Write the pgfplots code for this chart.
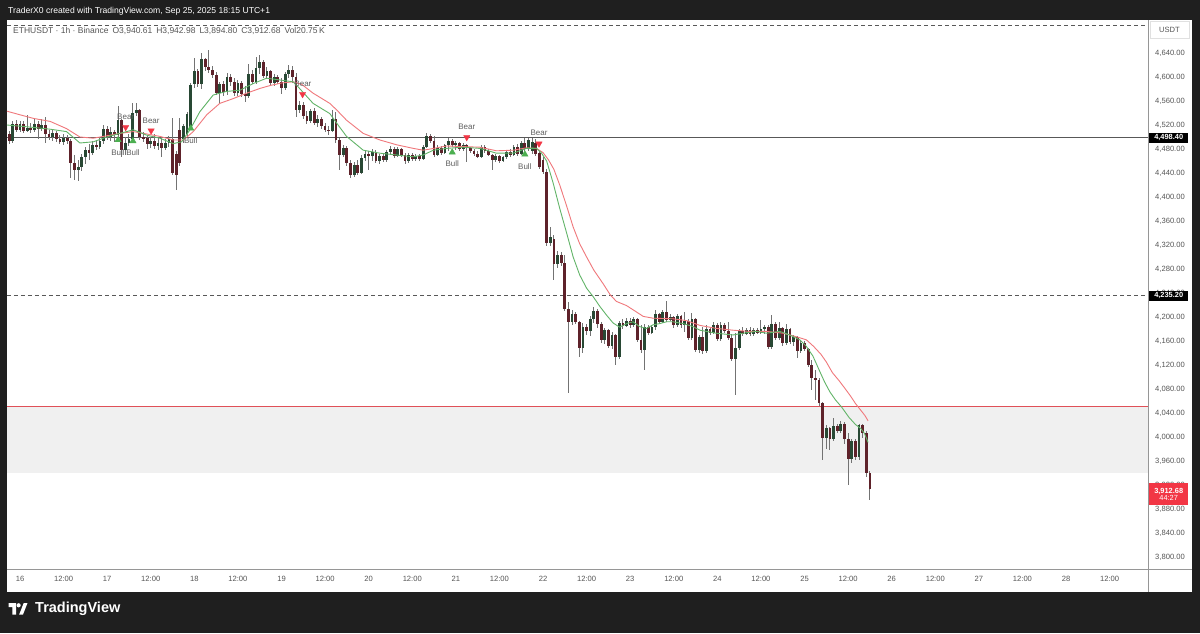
\documentclass[border=0pt]{standalone}
\usepackage{fontspec}
\setmainfont{Liberation Sans}
\usepackage{pgfplots}
\usepackage{pgfplotstable}
\usetikzlibrary{backgrounds}
\pgfplotsset{compat=1.18}
\newcommand{\fs}[1]{\fontsize{#1}{#1}\selectfont}

\definecolor{bgdark}{RGB}{31,31,31}
\definecolor{axtext}{RGB}{85,85,85}
\definecolor{sepgray}{RGB}{150,150,150}
\definecolor{upbody}{RGB}{40,72,52}
\definecolor{dnbody}{RGB}{94,34,42}
\definecolor{wickc}{RGB}{115,115,115}
\definecolor{emagreen}{RGB}{98,180,104}
\definecolor{emared}{RGB}{240,120,124}
\definecolor{zonegray}{RGB}{240,240,240}
\definecolor{zonered}{RGB}{224,80,88}
\definecolor{levelgray}{RGB}{88,88,88}
\definecolor{tvred}{RGB}{242,54,69}
\definecolor{bullg}{RGB}{76,175,80}
\definecolor{sigtext}{RGB}{95,95,95}
\tikzset{sig/.style={font=\fs{8}, text=sigtext, inner sep=0pt}}

% hourly candles, h = hours since Sep 16 00:00
\pgfplotstableread{
h o hi lo c
-3 4505 4510 4488 4494
-2 4494 4526 4490 4522
-1 4522 4528 4508 4512
0 4512 4527 4508 4522
1 4522 4526 4506 4510
2 4510 4537 4509 4515
3 4515 4524 4506 4512
4 4512 4530 4508 4522
5 4522 4526 4496 4514
6 4514 4530 4510 4520
7 4520 4534 4490 4505
8 4505 4512 4495 4500
9 4500 4512 4494 4506
10 4506 4510 4492 4497
11 4497 4504 4488 4492
12 4492 4505 4487 4499
13 4499 4503 4488 4493
14 4493 4496 4432 4457
15 4457 4470 4428 4445
16 4445 4462 4426 4450
17 4450 4472 4444 4466
18 4466 4484 4455 4478
19 4478 4488 4462 4474
20 4474 4494 4470 4487
21 4487 4495 4478 4483
22 4483 4500 4480 4493
23 4493 4520 4488 4513
24 4513 4518 4495 4500
25 4500 4516 4494 4508
26 4508 4512 4492 4503
27 4503 4551 4495 4528
28 4528 4530 4467 4478
29 4478 4500 4470 4490
30 4490 4505 4485 4497
31 4497 4556 4493 4540
32 4540 4556 4535 4545
33 4545 4547 4495 4500
34 4500 4508 4492 4498
35 4498 4502 4480 4488
36 4488 4500 4482 4494
37 4494 4505 4480 4485
38 4485 4498 4478 4490
39 4490 4500 4467 4482
40 4482 4496 4478 4490
41 4490 4502 4484 4496
42 4496 4531 4436 4440
43 4472 4476 4412 4436
44 4512 4531 4452 4456
45 4496 4522 4490 4518
46 4505 4542 4500 4538
47 4517 4590 4514 4587
48 4588 4631 4581 4610
49 4610 4614 4583 4588
50 4588 4640 4580 4630
51 4630 4632 4610 4616
52 4616 4645 4606 4611
53 4611 4618 4598 4603
54 4603 4608 4570 4574
55 4574 4592 4556 4588
56 4588 4594 4568 4575
57 4575 4606 4570 4600
58 4600 4605 4585 4592
59 4592 4598 4568 4574
60 4574 4595 4568 4590
61 4590 4594 4566 4572
62 4572 4585 4558 4568
63 4568 4622 4565 4605
64 4605 4612 4588 4592
65 4592 4634 4588 4615
66 4615 4637 4605 4625
67 4625 4628 4598 4601
68 4601 4617 4596 4610
69 4610 4612 4586 4590
70 4590 4605 4585 4600
71 4600 4604 4588 4592
72 4592 4598 4572 4582
73 4582 4608 4578 4605
74 4605 4620 4598 4612
75 4612 4618 4590 4600
76 4600 4606 4534 4545
77 4545 4560 4540 4553
78 4553 4558 4530 4535
79 4535 4544 4522 4527
80 4527 4547 4524 4543
81 4543 4548 4520 4524
82 4524 4536 4516 4530
83 4530 4534 4514 4518
84 4518 4524 4508 4512
85 4512 4518 4504 4510
86 4510 4545 4508 4530
87 4530 4542 4490 4495
88 4495 4498 4445 4470
89 4470 4486 4466 4482
90 4482 4485 4452 4457
91 4457 4462 4432 4436
92 4436 4458 4434 4453
93 4453 4462 4436 4440
94 4440 4470 4438 4465
95 4465 4476 4460 4472
96 4472 4476 4445 4468
97 4468 4480 4460 4475
98 4475 4478 4456 4460
99 4460 4472 4455 4468
100 4468 4472 4458 4462
101 4462 4478 4458 4475
102 4475 4485 4470 4480
103 4480 4483 4465 4468
104 4468 4484 4466 4480
105 4480 4482 4466 4470
106 4470 4474 4455 4460
107 4460 4474 4456 4470
108 4470 4473 4460 4463
109 4463 4472 4460 4469
110 4469 4472 4460 4464
111 4464 4487 4462 4484
112 4484 4506 4482 4502
113 4502 4505 4490 4494
114 4494 4501 4466 4470
115 4470 4486 4468 4482
116 4482 4485 4470 4474
117 4474 4489 4472 4486
118 4486 4498 4476 4494
119 4494 4497 4483 4486
120 4486 4494 4478 4490
121 4490 4492 4477 4480
122 4480 4490 4477 4486
123 4486 4488 4459 4481
124 4481 4484 4474 4477
125 4477 4480 4469 4472
126 4472 4476 4465 4467
127 4467 4486 4465 4483
128 4483 4486 4474 4477
129 4477 4480 4468 4470
130 4470 4472 4445 4462
131 4462 4471 4459 4468
132 4468 4470 4457 4460
133 4460 4469 4458 4466
134 4466 4478 4463 4475
135 4475 4480 4467 4470
136 4470 4487 4468 4484
137 4484 4488 4469 4472
138 4472 4494 4470 4490
139 4490 4498 4476 4480
140 4480 4499 4477 4495
141 4476 4499 4472 4492
142 4490 4496 4468 4472
143 4474 4478 4446 4450
144 4462 4466 4438 4442
145 4442 4446 4318 4323
146 4323 4350 4318 4334
147 4330 4336 4262 4288
148 4288 4310 4282 4304
149 4304 4309 4285 4290
150 4290 4303 4210 4214
151 4214 4225 4073 4192
152 4192 4212 4186 4205
153 4205 4208 4188 4192
154 4192 4194 4134 4148
155 4148 4190 4140 4184
156 4184 4189 4170 4176
157 4176 4202 4168 4196
158 4196 4216 4190 4210
159 4210 4214 4182 4188
160 4188 4192 4156 4162
161 4162 4182 4155 4178
162 4178 4180 4148 4152
163 4152 4175 4146 4170
164 4170 4172 4120 4134
165 4134 4194 4130 4190
166 4190 4196 4180 4185
167 4185 4198 4183 4194
168 4194 4198 4182 4186
169 4186 4200 4184 4197
170 4197 4199 4158 4162
171 4162 4186 4140 4145
172 4145 4188 4112 4184
173 4184 4187 4170 4174
174 4174 4186 4172 4183
175 4183 4212 4178 4205
176 4205 4207 4188 4192
177 4192 4211 4190 4208
178 4208 4226 4192 4195
179 4195 4205 4193 4200
180 4200 4202 4182 4186
181 4186 4205 4184 4202
182 4202 4204 4182 4186
183 4186 4209 4175 4194
184 4194 4196 4162 4165
185 4165 4206 4162 4196
186 4196 4199 4142 4145
187 4145 4170 4140 4166
188 4166 4184 4139 4143
189 4143 4186 4140 4180
190 4180 4184 4170 4174
191 4174 4192 4172 4187
192 4187 4190 4160 4163
193 4163 4192 4160 4187
194 4187 4190 4174 4177
195 4177 4192 4162 4165
196 4165 4172 4126 4130
197 4130 4173 4070 4148
198 4148 4180 4145 4176
199 4176 4184 4168 4172
200 4172 4182 4170 4178
201 4178 4183 4168 4171
202 4171 4181 4168 4178
203 4178 4182 4171 4174
204 4174 4195 4172 4180
205 4180 4187 4172 4184
206 4184 4186 4146 4150
207 4150 4203 4147 4189
208 4189 4192 4162 4165
209 4165 4192 4161 4182
210 4182 4184 4152 4156
211 4156 4189 4154 4180
212 4180 4182 4155 4158
213 4158 4170 4152 4166
214 4166 4168 4131 4143
215 4143 4160 4140 4156
216 4156 4160 4143 4146
217 4146 4148 4117 4120
218 4120 4128 4078 4098
219 4098 4112 4062 4095
220 4095 4098 4052 4056
221 4056 4059 3962 3998
222 3998 4020 3980 4015
223 4015 4017 3978 3996
224 3996 4031 3993 4018
225 4018 4022 4006 4010
226 4010 4026 4006 4022
227 4022 4025 3989 3996
228 3996 4006 3920 3964
229 3964 3996 3956 3994
230 3994 3996 3962 3966
231 3966 4022 3962 4020
232 4020 4022 3998 4006
233 4006 4010 3934 3940.61
234 3940.61 3942.98 3894.80 3912.68
}\ohlc

\begin{document}
\begin{tikzpicture}[x=1pt,y=1pt]
\begin{axis}[
  scale only axis, width=1141pt, height=549pt,
  xmin=-3.58, xmax=310.57, ymin=3780, ymax=4695,
  axis line style={draw=none}, tick style={draw=none}, major tick length=0pt,
  xtick={0,12,...,300},
  xticklabels={16,12:00,17,12:00,18,12:00,19,12:00,20,12:00,21,12:00,22,12:00,23,12:00,24,12:00,25,12:00,26,12:00,27,12:00,28,12:00},
  xticklabel style={font=\fs{7.6}, text=axtext, anchor=base, inner sep=0pt, yshift=-12.8pt},
  ytick={3800,3840,...,4640}, ytick pos=right, yticklabel pos=right,
  scaled y ticks=false,
  yticklabel style={font=\fs{7.6}, text=axtext, anchor=west, inner sep=0pt, xshift=7pt,
    /pgf/number format/.cd, fixed, fixed zerofill, precision=2, 1000 sep={,}, assume math mode=true},
]
\coordinate (A) at (rel axis cs:0,0);
% support zone and levels
\fill[zonegray] (axis cs:-3.58,3940) rectangle (axis cs:310.57,4051.7);
\addplot[zonered, line width=0.9pt] coordinates {(-3.58,4051.7) (310.57,4051.7)};
\addplot[levelgray, line width=1pt] coordinates {(-3.58,4498.4) (310.57,4498.4)};
\addplot[levelgray, line width=0.9pt, dash pattern=on 4pt off 3pt] coordinates {(-3.58,4235.2) (310.57,4235.2)};
\addplot[levelgray, line width=0.9pt, dash pattern=on 4pt off 3pt] coordinates {(-3.58,4686.7) (310.57,4686.7)};

% wicks
\addplot[draw=none, error bars/.cd, y dir=both, y explicit, error mark=none,
  error bar style={draw=wickc, line width=1pt}]
  table[x=h, y expr={(\thisrow{hi}+\thisrow{lo})/2}, y error expr={(\thisrow{hi}-\thisrow{lo})/2}] {\ohlc};
% bodies up
\addplot[draw=none, restrict expr to domain={\thisrow{c}-\thisrow{o}}{0:1000},
  error bars/.cd, y dir=both, y explicit, error mark=none,
  error bar style={draw=upbody, line width=2.8pt}]
  table[x=h, y expr={(\thisrow{o}+\thisrow{c})/2}, y error expr={max(abs(\thisrow{c}-\thisrow{o})/2,0.7)}] {\ohlc};
% bodies down
\addplot[draw=none, restrict expr to domain={\thisrow{c}-\thisrow{o}}{-1000:-0.001},
  error bars/.cd, y dir=both, y explicit, error mark=none,
  error bar style={draw=dnbody, line width=2.8pt}]
  table[x=h, y expr={(\thisrow{o}+\thisrow{c})/2}, y error expr={max(abs(\thisrow{c}-\thisrow{o})/2,0.7)}] {\ohlc};

% slow average
\addplot[emared, line width=0.9pt] coordinates {
(-3.6,4543) (0,4537) (3.7,4531) (8.3,4526) (12.8,4514) (16.5,4500) (20.2,4498) (24.8,4503)
(27.5,4506) (31.2,4509) (34.9,4505) (38.5,4501) (42.2,4495) (45,4495) (47.7,4509) (51.4,4537)
(55,4556) (58.7,4564) (62.4,4573) (66.1,4581) (69,4586) (72,4590) (75.2,4592) (77.5,4588)
(80.7,4573) (85.3,4556) (87.2,4545) (89.9,4528) (94.5,4506) (99.1,4495) (103.7,4487) (108.3,4481)
(111,4478) (113,4480) (117.4,4485) (122,4484) (126.6,4483) (131.2,4477) (135.8,4478) (139.5,4482)
(142.2,4481) (144,4474) (145.5,4462) (147,4446) (148.6,4420) (150.5,4385) (152.3,4350) (154.1,4322)
(156,4300) (158,4278) (160.6,4255) (162.5,4237) (164.2,4226) (167,4219) (168.8,4212) (171.6,4201)
(174.3,4198) (179.8,4197) (183.5,4194) (187.2,4186) (191.7,4181) (196.3,4178) (200.9,4176) (205.5,4176)
(210.1,4173) (213.8,4167) (216.5,4162) (218.5,4151) (220.5,4138) (222,4125) (223.7,4107) (225.5,4094)
(227,4082) (228.7,4068) (230,4056) (231.3,4046) (232.6,4036) (233.5,4027)
};
% fast average
\addplot[emagreen, line width=0.9pt] coordinates {
(-3.6,4520) (3.7,4516) (8.3,4513) (12.8,4509) (16.5,4490) (20.2,4492) (23.9,4500) (27.5,4506)
(31.2,4512) (34.9,4503) (38.5,4498) (42.2,4489) (44.5,4492) (46.8,4512) (49.5,4542) (53.2,4570)
(56.9,4576) (60.6,4578) (64.2,4589) (67.9,4598) (71.6,4595) (75.2,4592) (76.5,4584) (80.7,4556)
(85.3,4539) (87.2,4523) (89.9,4501) (94.5,4478) (99.1,4473) (103.7,4470) (108.3,4467) (111,4470)
(113.8,4478) (117.4,4481) (122,4483) (126.6,4481) (131.2,4473) (135.8,4473) (139.4,4481) (142.2,4481)
(143.5,4474) (145,4460) (146.8,4423) (148.6,4381) (150.5,4340) (152.3,4300) (154.1,4270) (156,4248)
(157.8,4234) (159.6,4218) (161.5,4203) (163.3,4190) (165.1,4183) (167,4189) (168.8,4192) (170.6,4184)
(172.5,4181) (174.3,4187) (176.1,4189) (178,4192) (179.8,4192) (182.6,4189) (185.3,4184) (187.2,4178)
(191.7,4173) (196.3,4170) (199.1,4173) (202.8,4176) (205.5,4173) (209.2,4176) (211.9,4170) (214.7,4162)
(216.5,4151) (218.3,4135) (220,4112) (221.5,4092) (223,4075) (224.5,4062) (226.2,4050) (228.2,4033)
(230,4021) (231.5,4014) (232.5,4006) (233.5,3991)
};

% signals
\addplot[only marks, mark=triangle*, mark size=3.6pt, bullg, mark options={draw=none, fill=bullg}]
  coordinates {(27,4495) (31.1,4493.3) (47,4514.5) (119,4474.5) (139,4471.2)};
\addplot[only marks, mark=triangle*, mark size=3.6pt, tvred, mark options={draw=none, fill=tvred, rotate=180}]
  coordinates {(29.1,4516.2) (36.1,4510.5) (77.8,4571.2) (123,4499.5) (142.9,4488.8)};
\node[sig] at (axis cs:29.1,4533.3) {Bear};
\node[sig] at (axis cs:36.1,4526.7) {Bear};
\node[sig] at (axis cs:77.9,4588.3) {Bear};
\node[sig] at (axis cs:123,4516.2) {Bear};
\node[sig] at (axis cs:142.9,4507.2) {Bear};
\node[sig] at (axis cs:27,4473.3) {Bull};
\node[sig] at (axis cs:31.1,4473.3) {Bull};
\node[sig] at (axis cs:47,4494.2) {Bull};
\node[sig] at (axis cs:119,4455) {Bull};
\node[sig] at (axis cs:139,4450.5) {Bull};

\coordinate (L1) at (axis cs:310.57,4498.4);
\coordinate (L2) at (axis cs:310.57,4235.2);
\coordinate (L3) at (axis cs:310.57,3912.68);
\end{axis}

% page frame, in pixel units measured from the bottom-left of the screenshot
\begin{scope}[on background layer]
\begin{scope}[shift={(A)}, xshift=-7pt, yshift=-64pt]
\fill[bgdark] (0,0) rectangle (1200,633);
\fill[white] (7,41) rectangle (1192,613);
\end{scope}
\end{scope}

\begin{scope}[shift={(A)}, xshift=-7pt, yshift=-64pt]
% frame lines
\draw[sepgray, line width=0.8pt] (1148,41) -- (1148,613);
\draw[sepgray, line width=0.8pt] (7,64) -- (1192,64);
\draw[black!12, line width=0.6pt] (1150,595) rectangle (1189,611.5);
\node[font=\fs{7.6}, text=axtext] at (1169.5,603) {USDT};

% header
\node[font=\fs{8.6}, text=white, anchor=west, inner sep=0pt] at (8,622)
  {TraderX0 created with TradingView.com, Sep 25, 2025 18:15 UTC+1};
\node[font=\fs{8.5}, text=axtext, anchor=west, inner sep=0pt] at (13,602)
  {ETHUSDT · 1h · Binance\hspace{4pt}O3,940.61\hspace{4pt}H3,942.98\hspace{4pt}L3,894.80\hspace{4pt}C3,912.68\hspace{4pt}Vol20.75\,K};

% logo
\fill[white] (8.5,30) -- (16,30) -- (16,18.5) -- (12.3,18.5) -- (12.3,26) -- (8.5,26) -- cycle;
\fill[white] (18.6,27.7) circle (2.1);
\fill[white] (19.2,18.5) -- (23,18.5) -- (27.5,30) -- (23.7,30) -- cycle;
\node[font=\bfseries\fs{14.5}, text=white, anchor=west, inner sep=0pt] at (35,24) {TradingView};
\end{scope}

% price tags
\node[fill=black, text=white, font=\bfseries\fs{7.4}, anchor=west, inner sep=0pt,
  minimum width=39pt, minimum height=10pt] at ([xshift=1pt]L1) {4,498.40};
\node[fill=black, text=white, font=\bfseries\fs{7.4}, anchor=west, inner sep=0pt,
  minimum width=39pt, minimum height=10pt] at ([xshift=1pt]L2) {4,235.20};
\node[fill=tvred, text=white, font=\fs{7.4}, anchor=north west, inner sep=0pt,
  minimum width=39pt, minimum height=22pt, align=center] at ([xshift=1pt,yshift=6.5pt]L3)
  {\bfseries 3,912.68\\[-0.5pt]44:27};
\end{tikzpicture}
\end{document}
